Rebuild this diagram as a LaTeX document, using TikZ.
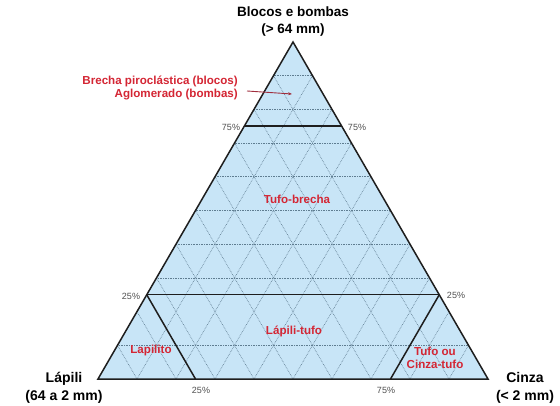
\documentclass[tikz,border=0pt]{standalone}
\usepackage{fontspec}
\setmainfont{Liberation Sans}
\usetikzlibrary{calc,arrows.meta}
\definecolor{fieldblue}{RGB}{200,229,247}
\definecolor{gridgray}{RGB}{95,125,145}
\definecolor{edgeblack}{RGB}{30,30,30}
\definecolor{namered}{RGB}{212,38,52}
\definecolor{arrowred}{RGB}{160,45,60}
\definecolor{pctgray}{RGB}{80,80,80}
\begin{document}
\begin{tikzpicture}[x=1pt,y=-1pt,
  gridline/.style={draw=gridgray,line width=0.65pt,densely dotted},
  fieldline/.style={draw=edgeblack,line width=1.5pt},
  corner/.style={font=\bfseries\fontsize{14}{18}\selectfont,align=center,text=black},
  apexlabel/.style={font=\bfseries\fontsize{13.5}{17}\selectfont,align=center,text=black},
  fieldname/.style={font=\bfseries\fontsize{11.6}{13.5}\selectfont,text=namered,align=center,inner sep=0pt},
  pct/.style={font=\fontsize{9}{10}\selectfont,text=pctgray,inner sep=0pt}]
\useasboundingbox (0,0) rectangle (560,406);
\fill[white] (0,0) rectangle (560,406);

% vertices of the ternary diagram
\coordinate (A) at (293,42);   % blocos e bombas
\coordinate (L) at (98,379);   % lapili
\coordinate (C) at (488,379);  % cinza

\fill[fieldblue] (A) -- (L) -- (C) -- cycle;

% 10 % grid in the three directions
\foreach \k in {1,...,9} {
  \draw[gridline] ($(L)!\k/10!(C)$) -- ($(L)!\k/10!(A)$);
  \draw[gridline] ($(L)!\k/10!(C)$) -- ($(C)!1-\k/10!(A)$);
}
\foreach \k in {1,3,4,5,6,7,8,9}
  \draw[gridline] ($(L)!\k/10!(A)$) -- ($(C)!\k/10!(A)$);

% field boundaries
\coordinate (b75l) at ($(L)!0.75!(A)$);
\coordinate (b75r) at ($(C)!0.75!(A)$);
\coordinate (b25l) at ($(L)!0.25!(A)$);
\coordinate (b25r) at ($(C)!0.25!(A)$);
\coordinate (c25) at ($(L)!0.25!(C)$);
\coordinate (c75) at ($(L)!0.75!(C)$);
\draw[fieldline] (b75l) -- (b75r);
\draw[fieldline] (b25l) -- (b25r);
\draw[fieldline] (b25l) -- (c25);
\draw[fieldline] (b25r) -- (c75);
\draw[fieldline,line join=miter] (A) -- (L) -- (C) -- cycle;

% end members
\node[apexlabel] (nA) at (293,22) {Blocos e bombas\\(> 64 mm)};
\node[corner] (nL) at (64,388) {Lápili\\(64 a 2 mm)};
\node[corner] (nC) at (525,388) {Cinza\\(< 2 mm)};

% percentages
\node[pct] (p75l) at (231,127) {75\%};
\node[pct] (p75r) at (357,127) {75\%};
\node[pct] (p25l) at (131,296) {25\%};
\node[pct] (p25r) at (456,295) {25\%};
\node[pct] (p25b) at (201,390) {25\%};
\node[pct] (p75b) at (386,390) {75\%};

% field names
\node[fieldname,anchor=east] (brecha) at (238,81) {Brecha piroclástica (blocos)};
\node[fieldname,anchor=east] (aglom) at (238,95) {Aglomerado (bombas)};
\coordinate (tipbrecha) at (292,94);
\draw[arrowred,line width=0.9pt,-{Stealth[length=4pt,width=3pt]}] ($(aglom.east)+(9,-4)$) -- (tipbrecha);
\node[fieldname] (tb) at (297,199) {Tufo-brecha};
\node[fieldname] (lt) at (294,331) {Lápili-tufo};
\node[fieldname] (lap) at (151,351) {Lapilito};
\node[fieldname] (ct) at (435,358) {Tufo ou\\Cinza-tufo};
\end{tikzpicture}
\end{document}
